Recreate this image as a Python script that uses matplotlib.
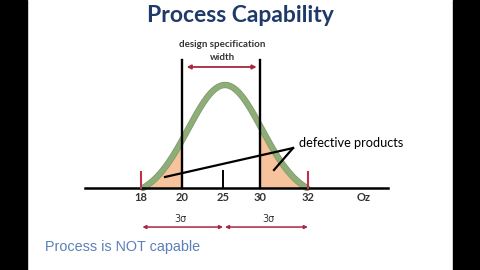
import numpy as np
import matplotlib
matplotlib.use("Agg")
import matplotlib.pyplot as plt
from matplotlib.patches import Rectangle

# schematic x positions (1 unit ~ one drawn sigma), labels in Oz
tick_pos = [-3.0, -1.54, -0.07, 1.25, 2.96]
tick_labels = ["18", "20", "25", "30", "32"]
spec_pos = [-1.54, 1.25]          # design specification limits (20, 30)
limit_pos = [-3.0, 2.96]          # process +-3 sigma (18, 32)
center_pos = -0.07                # mean (25)

# bell curve parameters
curve_sigma = 1.32
curve_half_width = 2.93

GREEN = "#8FAD79"
ORANGE = "#F6C39C"
DARKRED = "#A8283F"
NAVY = "#1F3A68"

fig = plt.figure(figsize=(4.8, 2.7), dpi=100)
ax = fig.add_axes([0, 0, 1, 1])
ax.set_xlim(-225 / 28, 255 / 28)
ax.set_ylim(-82 / 103, 188 / 103)
ax.axis("off")

# black side bars of the video frame
fig.add_artist(Rectangle((0, 0), 27 / 480, 1, transform=fig.transFigure,
                         color="black", zorder=10))
fig.add_artist(Rectangle((453 / 480, 0), 27 / 480, 1, transform=fig.transFigure,
                         color="black", zorder=10))

# bell curve
x = np.linspace(-curve_half_width, curve_half_width, 400)
base = np.exp(-curve_half_width ** 2 / (2 * curve_sigma ** 2))
y = (np.exp(-x ** 2 / (2 * curve_sigma ** 2)) - base) / (1 - base)

ax.fill_between(x, 0, y, where=x <= spec_pos[0], color=ORANGE, lw=0, zorder=1)
ax.fill_between(x, 0, y, where=x >= spec_pos[1], color=ORANGE, lw=0, zorder=1)
ax.plot(x, y, color="#7F9C6A", lw=4.6, solid_capstyle="round", zorder=2)
ax.plot(x, y, color=GREEN, lw=3.4, solid_capstyle="round", zorder=2)

# horizontal axis
ax.plot([-5.0, 5.82], [0, 0], color="black", lw=1.8, zorder=4)

# spec limit lines
for p in spec_pos:
    ax.plot([p, p], [0, 1.243], color="black", lw=1.7, zorder=4)
# +-3 sigma red ticks
for p in limit_pos:
    ax.plot([p, p], [0, 0.155], color="#C0304A", lw=1.5, zorder=4)
ax.plot([center_pos, center_pos], [0, 0.165], color="black", lw=1.4, zorder=4)

for p, lab in zip(tick_pos, tick_labels):
    ax.text(p, -0.097, lab, ha="center", va="center", fontsize=8,
            color="#333333", family="Lato", weight="bold")
ax.text(4.96, -0.097, "Oz", ha="center", va="center", fontsize=8,
        color="#333333", family="Lato", weight="bold")

# design specification width
ax.text(-0.1, 1.39, "design specification", ha="center", va="center",
        fontsize=7, color="#333333", family="Lato", weight="bold")
ax.text(-0.1, 1.27, "width", ha="center", va="center",
        fontsize=7, color="#333333", family="Lato", weight="bold")
ax.annotate("", xy=(spec_pos[1] - 0.12, 1.175), xytext=(spec_pos[0] + 0.17, 1.175),
            arrowprops=dict(arrowstyle="<|-|>", color=DARKRED, lw=1.3,
                            mutation_scale=6, shrinkA=0, shrinkB=0))

# 3 sigma arrows
ax.annotate("", xy=(center_pos, -0.379), xytext=(limit_pos[0] + 0.05, -0.379),
            arrowprops=dict(arrowstyle="<|-|>", color=DARKRED, lw=1.1,
                            mutation_scale=5, shrinkA=0, shrinkB=0))
ax.annotate("", xy=(limit_pos[1], -0.379), xytext=(center_pos + 0.07, -0.379),
            arrowprops=dict(arrowstyle="<|-|>", color=DARKRED, lw=1.1,
                            mutation_scale=5, shrinkA=0, shrinkB=0))
ax.text(-1.6, -0.30, "3σ", ha="center", va="center", fontsize=7, color="#333333")
ax.text(1.54, -0.30, "3σ", ha="center", va="center", fontsize=7, color="#333333")

# defective products pointer
ax.plot([2.43, -2.14], [0.388, 0.107], color="black", lw=1.6, zorder=5)
ax.plot([2.43, 1.75], [0.388, 0.175], color="black", lw=1.6, zorder=5)
ax.text(2.64, 0.437, "defective products", ha="left", va="center",
        fontsize=9.2, color="black", family="Lato")

# title and caption
fig.text(240 / 480, 1 - 15 / 270, "Process Capability", ha="center", va="center",
         fontsize=16.5, color=NAVY, family="Lato", weight="bold")
fig.text(45 / 480, 1 - 247 / 270, "Process is NOT capable", ha="left", va="center",
         fontsize=10.4, color="#5B80B8", family="Liberation Sans")

fig.savefig("out.png", dpi=100)
